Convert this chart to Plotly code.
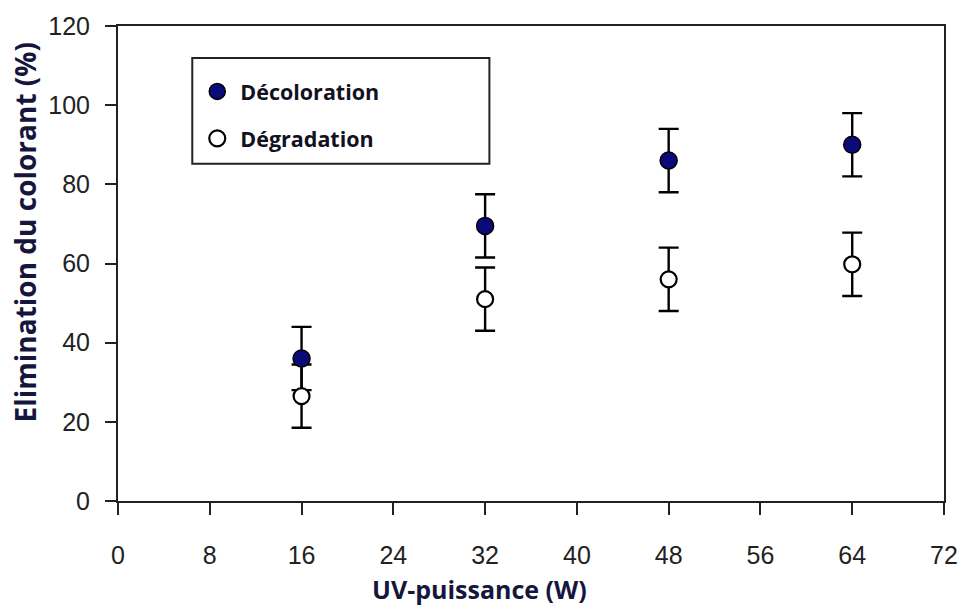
import plotly.graph_objects as go

power_w = [16, 32, 48, 64]
decoloration = [36, 69.5, 86, 90]
decoloration_err = [8, 8, 8, 8]
degradation = [26.5, 51, 56, 59.8]
degradation_err = [8, 8, 8, 8]

x_ticks = [0, 8, 16, 24, 32, 40, 48, 56, 64, 72]
y_ticks = [0, 20, 40, 60, 80, 100, 120]

title_color = "#15163d"
tick_font = dict(family="Liberation Sans", size=25, color="#222222")

fig = go.Figure()
# error bars first, so that markers of both series are drawn above them
for vals, errs in ((degradation, degradation_err), (decoloration, decoloration_err)):
    fig.add_trace(go.Scatter(
        x=power_w, y=vals, mode="markers", showlegend=False, hoverinfo="skip",
        marker=dict(size=1, opacity=0),
        error_y=dict(type="data", array=errs, visible=True,
                     color="black", thickness=2.4, width=10),
    ))
fig.add_trace(go.Scatter(
    x=power_w, y=degradation, mode="markers", name="Dégradation",
    legendgroup="b", legendrank=2,
    marker=dict(symbol="circle", size=16, color="white",
                line=dict(color="black", width=2.2)),
))
fig.add_trace(go.Scatter(
    x=power_w, y=decoloration, mode="markers", name="Décoloration",
    legendgroup="a", legendrank=1,
    marker=dict(symbol="circle", size=17, color="#0a0a78",
                line=dict(color="black", width=1.5)),
))

L, R, T, B = 118, 18, 25, 109
W, H = 970, 610
pw, ph = W - L - R, H - T - B

def px(x):
    return (x - L) / pw

def py(y):
    return (H - B - y) / ph

fig.update_layout(
    width=W, height=H,
    margin=dict(l=L, r=R, t=T, b=B),
    paper_bgcolor="white", plot_bgcolor="white",
    showlegend=True,
    legend=dict(
        x=px(195), y=py(70), xanchor="left", yanchor="top",
        bgcolor="rgba(0,0,0,0)", borderwidth=0,
        font=dict(family="Open Sans", size=21.5, color="#111122", weight="bold"),
        tracegroupgap=16, itemclick=False, itemwidth=36,
    ),
    shapes=[dict(type="rect", xref="paper", yref="paper",
                 x0=px(193), x1=px(493), y0=py(163), y1=py(57),
                 line=dict(color="#222222", width=2), fillcolor="rgba(0,0,0,0)")],
    annotations=[
        dict(text="UV-puissance (W)", xref="paper", yref="paper",
             x=px(483), y=py(589), xanchor="center", yanchor="middle",
             showarrow=False,
             font=dict(family="Open Sans", size=25, color=title_color, weight="bold")),
        dict(text="Elimination du colorant (%)", xref="paper", yref="paper",
             x=px(24), y=py(231), xanchor="center", yanchor="middle",
             textangle=-90, showarrow=False,
             font=dict(family="Open Sans", size=28, color=title_color, weight="bold")),
    ],
)
fig.update_xaxes(
    range=[0, 72], tickvals=x_ticks, ticktext=[str(v) for v in x_ticks],
    showgrid=False, zeroline=False, showline=True, linecolor="#222222",
    linewidth=2, mirror=True, ticks="outside", ticklen=12, tickwidth=2,
    tickcolor="#222222", tickfont=tick_font, ticklabelstandoff=19,
)
fig.update_yaxes(
    range=[0, 120], tickvals=y_ticks, ticktext=[str(v) for v in y_ticks],
    showgrid=False, zeroline=False, showline=True, linecolor="#222222",
    linewidth=2, mirror=True, ticks="outside", ticklen=11, tickwidth=2,
    tickcolor="#222222", tickfont=tick_font, ticklabelstandoff=10,
)

fig.write_html("out.html")
